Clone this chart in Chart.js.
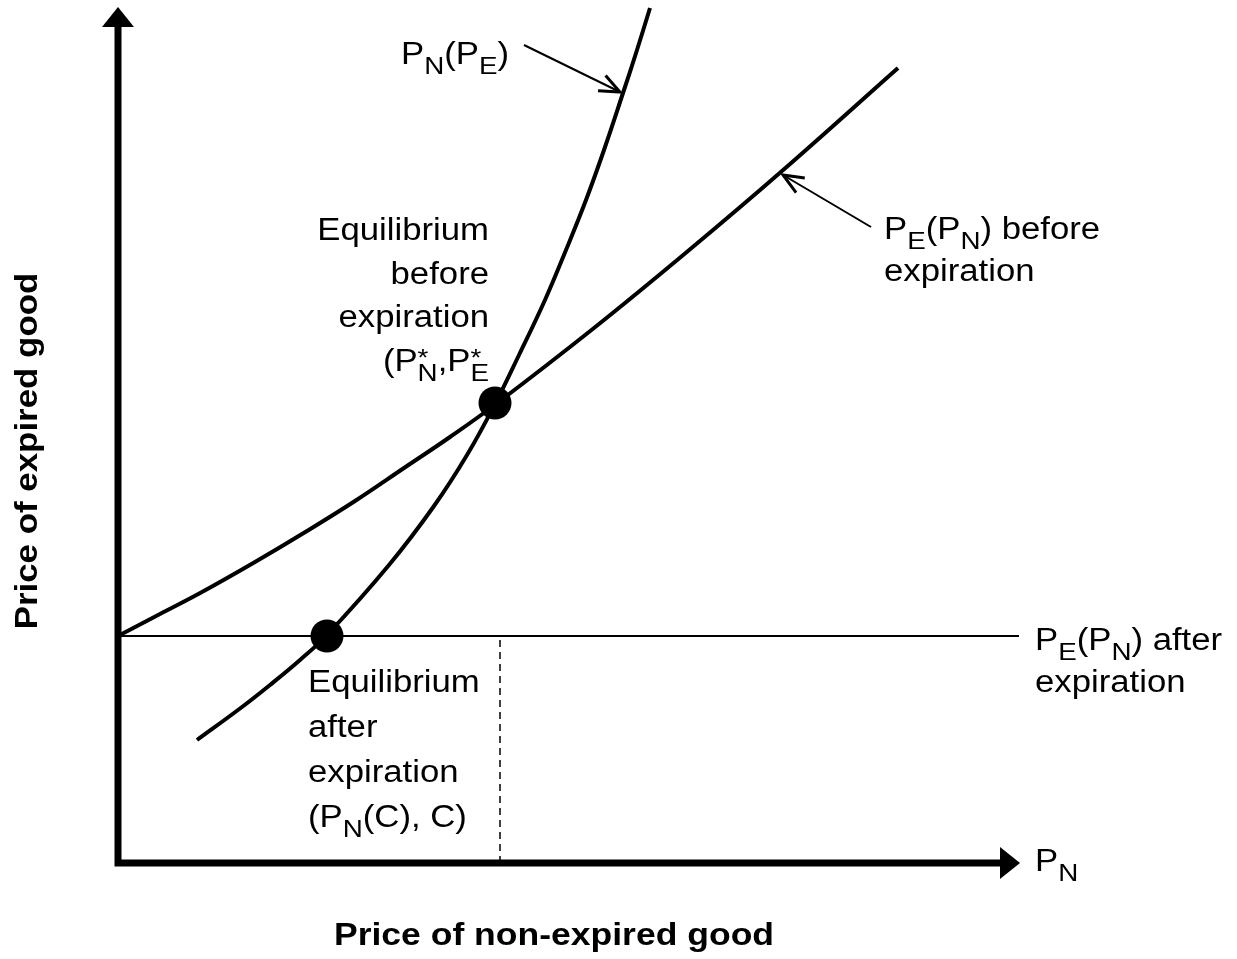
<!DOCTYPE html>
<html>
<head>
<meta charset="utf-8">
<title>Expiration equilibrium</title>
<script src="https://cdn.jsdelivr.net/npm/chart.js@4.4.1/dist/chart.umd.min.js"></script>
<style>
  html, body { margin: 0; padding: 0; background: #fff; }
  #wrap { width: 1237px; height: 959px; }
</style>
</head>
<body>
<div id="wrap"><canvas id="chart" width="1237" height="959"></canvas></div>
<script>
// P_N(P_E): steep curve
const pnCurveX = [79, 124, 152, 182, 209, 271, 316, 349, 377, 401, 427, 448, 468, 486, 505, 519, 532];
const pnCurveY = [123, 156, 178, 203, 228, 298, 357, 408, 459, 508, 563, 613, 663, 713, 770, 813, 855];

// P_E(P_N) before expiration
const peBeforeX = [0, 42, 84, 137, 189, 237, 286, 332, 378, 476, 570, 664, 780];
const peBeforeY = [227, 249, 271, 301, 332, 362, 395, 426, 459, 535, 612, 692, 795];

// P_E(P_N) after expiration = C (flat)
const peAfterX = [0, 901];
const peAfterY = [227, 227];

// equilibria: before, after
const eqX = [377, 209];
const eqY = [460, 227];

// axis extents (arrow tips)
const xAxisMax = 902;
const yAxisMax = 856;

const FONT = "'Liberation Sans', Arial, Helvetica, sans-serif";

function pts(xs, ys) {
  return xs.map((x, i) => ({ x: x, y: ys[i] }));
}

// rich text: segments [text, kind], kind: '' | 'sub' | 'supHold'
function drawRich(ctx, segs, x, y, align, size, stretch) {
  const subSize = size * 0.8;
  const fontMain = size + 'px ' + FONT;
  const fontSub = subSize + 'px ' + FONT;
  ctx.save();
  ctx.translate(x, y);
  ctx.scale(stretch, 1);
  ctx.textAlign = 'left';
  ctx.textBaseline = 'alphabetic';
  ctx.fillStyle = '#000';
  let total = 0;
  const adv = segs.map(s => {
    ctx.font = s[1] ? fontSub : fontMain;
    const w = ctx.measureText(s[0]).width;
    const a = s[1] === 'supHold' ? 0 : w;
    total += a;
    return a;
  });
  let cx = align === 'right' ? -total : 0;
  segs.forEach((s, i) => {
    ctx.font = s[1] ? fontSub : fontMain;
    let dy = 0;
    if (s[1] === 'sub') dy = 10;
    if (s[1] === 'supHold') dy = -5;
    ctx.fillText(s[0], cx, dy);
    cx += adv[i];
  });
  ctx.restore();
}

function arrowLine(ctx, x1, y1, x2, y2) {
  const ang = Math.atan2(y2 - y1, x2 - x1);
  const len = 22, spread = 0.4;
  ctx.lineWidth = 2;
  ctx.beginPath();
  ctx.moveTo(x1, y1);
  ctx.lineTo(x2, y2);
  ctx.stroke();
  ctx.lineWidth = 3;
  ctx.beginPath();
  ctx.moveTo(x2 - len * Math.cos(ang - spread), y2 - len * Math.sin(ang - spread));
  ctx.lineTo(x2, y2);
  ctx.lineTo(x2 - len * Math.cos(ang + spread), y2 - len * Math.sin(ang + spread));
  ctx.stroke();
}

const axesPlugin = {
  id: 'axesArrows',
  beforeDatasetsDraw(chart) {
    const ctx = chart.ctx;
    const xs = chart.scales.x, ys = chart.scales.y;
    const ox = xs.getPixelForValue(0), oy = ys.getPixelForValue(0);
    const tx = xs.getPixelForValue(xAxisMax), ty = ys.getPixelForValue(yAxisMax);
    const head = 20, half = 16;
    ctx.save();
    ctx.strokeStyle = '#000';
    ctx.fillStyle = '#000';
    ctx.lineWidth = 7;
    ctx.lineCap = 'square';
    ctx.beginPath();
    ctx.moveTo(ox, oy);
    ctx.lineTo(ox, ty + head);
    ctx.moveTo(ox, oy);
    ctx.lineTo(tx - head, oy);
    ctx.stroke();
    ctx.beginPath();
    ctx.moveTo(ox, ty);
    ctx.lineTo(ox - half, ty + head);
    ctx.lineTo(ox + half, ty + head);
    ctx.closePath();
    ctx.fill();
    ctx.beginPath();
    ctx.moveTo(tx, oy);
    ctx.lineTo(tx - head, oy - half);
    ctx.lineTo(tx - head, oy + half);
    ctx.closePath();
    ctx.fill();
    ctx.restore();
  }
};

const labelPlugin = {
  id: 'diagramLabels',
  afterDraw(chart) {
    const ctx = chart.ctx;
    const xs = chart.scales.x, ys = chart.scales.y;
    const X = v => xs.getPixelForValue(v);
    const Y = v => ys.getPixelForValue(v);
    const S = 31, ST = 1.12;

    ctx.save();
    ctx.strokeStyle = '#000';
    ctx.lineCap = 'butt';
    ctx.lineJoin = 'miter';
    arrowLine(ctx, X(406), Y(818), X(502), Y(771));
    arrowLine(ctx, X(753), Y(636), X(665), Y(688));
    ctx.restore();

    drawRich(ctx, [['P', ''], ['N', 'sub'], ['(P', ''], ['E', 'sub'], [')', '']], X(283), Y(799), 'left', S, ST);

    drawRich(ctx, [['Equilibrium', '']], X(371), Y(623), 'right', S, ST);
    drawRich(ctx, [['before', '']], X(371), Y(579), 'right', S, ST);
    drawRich(ctx, [['expiration', '']], X(371), Y(536), 'right', S, ST);
    drawRich(ctx, [['(P', ''], ['*', 'supHold'], ['N', 'sub'], [',P', ''], ['*', 'supHold'], ['E', 'sub']],
      X(371), Y(492), 'right', S, ST);

    drawRich(ctx, [['P', ''], ['E', 'sub'], ['(P', ''], ['N', 'sub'], [') before', '']], X(766), Y(624), 'left', S, ST);
    drawRich(ctx, [['expiration', '']], X(766), Y(582), 'left', S, ST);

    drawRich(ctx, [['P', ''], ['E', 'sub'], ['(P', ''], ['N', 'sub'], [') after', '']], X(917), Y(213), 'left', S, ST);
    drawRich(ctx, [['expiration', '']], X(917), Y(171), 'left', S, ST);

    drawRich(ctx, [['P', ''], ['N', 'sub']], X(917), Y(-8), 'left', S, ST);

    drawRich(ctx, [['Equilibrium', '']], X(190), Y(171), 'left', S, ST);
    drawRich(ctx, [['after', '']], X(190), Y(126), 'left', S, ST);
    drawRich(ctx, [['expiration', '']], X(190), Y(81), 'left', S, ST);
    drawRich(ctx, [['(P', ''], ['N', 'sub'], ['(C), C)', '']], X(190), Y(36), 'left', S, ST);

    // axis titles
    ctx.save();
    ctx.fillStyle = '#000';
    ctx.font = 'bold 32px ' + FONT;
    ctx.textAlign = 'center';
    ctx.textBaseline = 'alphabetic';
    ctx.save();
    ctx.translate(X(436), Y(-82));
    ctx.scale(1.11, 1);
    ctx.fillText('Price of non-expired good', 0, 0);
    ctx.restore();
    ctx.save();
    ctx.translate(X(-81), Y(412));
    ctx.rotate(-Math.PI / 2);
    ctx.scale(1.09, 1);
    ctx.fillText('Price of expired good', 0, 0);
    ctx.restore();
    ctx.restore();
  }
};

const lineBase = {
  showLine: true,
  pointRadius: 0,
  borderColor: '#000',
  backgroundColor: '#000',
  fill: false,
  clip: false
};

new Chart(document.getElementById('chart'), {
  type: 'scatter',
  data: {
    datasets: [
      Object.assign({}, lineBase, {
        label: 'PE(PN) after',
        data: pts(peAfterX, peAfterY),
        borderWidth: 2
      }),
      Object.assign({}, lineBase, {
        label: 'PN(C)',
        data: [{ x: eqX[0] + 5, y: 0 }, { x: eqX[0] + 5, y: eqY[1] }],
        borderWidth: 1.5,
        borderDash: [7, 5]
      }),
      Object.assign({}, lineBase, {
        label: 'PN(PE)',
        data: pts(pnCurveX, pnCurveY),
        borderWidth: 4,
        tension: 0.4
      }),
      Object.assign({}, lineBase, {
        label: 'PE(PN) before',
        data: pts(peBeforeX, peBeforeY),
        borderWidth: 4,
        tension: 0.4
      }),
      {
        label: 'equilibria',
        data: pts(eqX, eqY),
        showLine: false,
        pointRadius: 16.5,
        pointBackgroundColor: '#000',
        pointBorderWidth: 0,
        clip: false
      }
    ]
  },
  options: {
    responsive: false,
    animation: false,
    layout: { autoPadding: false, padding: { left: 118, right: 217, top: 7, bottom: 96 } },
    plugins: {
      legend: { display: false },
      tooltip: { enabled: false }
    },
    scales: {
      x: { type: 'linear', min: 0, max: xAxisMax, display: false },
      y: { type: 'linear', min: 0, max: yAxisMax, display: false }
    }
  },
  plugins: [axesPlugin, labelPlugin]
});
</script>
</body>
</html>
